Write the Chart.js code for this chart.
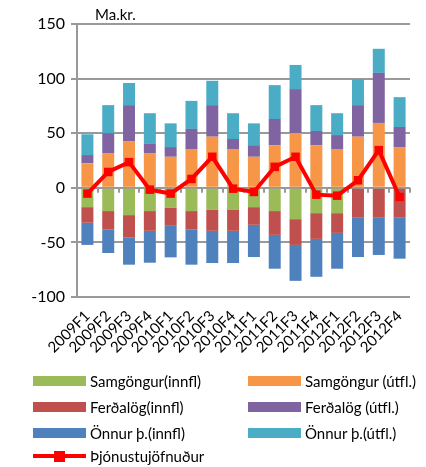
<!DOCTYPE html>
<html>
<head>
<meta charset="utf-8">
<script src="https://cdn.jsdelivr.net/npm/chart.js@4/dist/chart.umd.min.js"></script>
<style>
  body { margin: 0; background: #fff; }
  #wrap { position: relative; width: 426px; height: 467px; }
  #legend { position: absolute; left: 0; top: 0; width: 426px; height: 467px; pointer-events: none;
            font-family: Lato, sans-serif; font-size: 15px; color: #000; }
  .item { position: absolute; height: 20px; line-height: 20px; white-space: nowrap; }
  .sw { position: absolute; left: 0; top: 5px; width: 53px; height: 10px; }
  .txt { position: absolute; left: 57px; top: 0; }
</style>
</head>
<body>
<div id="wrap">
  <canvas id="chart" width="426" height="467"></canvas>
  <div id="legend"></div>
</div>
<script>
var quarters = ["2009F1","2009F2","2009F3","2009F4","2010F1","2010F2","2010F3","2010F4",
                "2011F1","2011F2","2011F3","2011F4","2012F1","2012F2","2012F3","2012F4"];

// Ma.kr.
var samgInnfl = [-17.7,-21.3,-25,-21.3,-18,-21.3,-19.8,-19.8,-17.7,-21.3,-28.7,-23.2,-23.2,0,0,0];
var samgUtfl  = [22.5,31.8,42.8,31.8,28.4,35.5,46.8,35.5,28.4,39,50.2,39,35.5,46.8,59.4,37.3];
var ferdInnfl = [-14.3,-16.7,-20.3,-18.1,-16.2,-16.7,-19.6,-19.6,-16.2,-21.8,-23.6,-23.6,-18.1,-26.9,-26.9,-26.9];
var ferdUtfl  = [7.5,18.2,32.9,8.9,8.9,18.4,28.9,9.2,10.6,24,40.2,13,12.8,28.9,45.8,18.4];
var onnurInnfl = [-20.3,-21.7,-25.1,-29.2,-29.5,-32.4,-29.5,-29.5,-29.5,-31,-32.9,-34.7,-32.8,-36.5,-34.6,-38];
var onnurUtfl  = [19,25.7,20.3,27.6,21.7,25.7,22.3,23.6,20,31,22.1,23.7,20,23.9,22.1,27.3];
var jofnudur = [-5.3,14.5,23.5,-1.7,-5.3,8.1,28.4,-0.8,-3.8,19.2,28.4,-6.3,-7.2,6.9,34.5,-8.4];

var yTicks = [-100,-50,0,50,100,150];

function bar(label, data, color) {
  return { type: 'bar', label: label, data: data, backgroundColor: color, borderWidth: 0,
           stack: 'a', order: 1, barPercentage: 0.64, categoryPercentage: 0.9 };
}

var datasets = [
  bar("Samgöngur(innfl)", samgInnfl, "#9BBB59"),
  bar("Samgöngur (útfl.)", samgUtfl, "#F79646"),
  bar("Ferðalög(innfl)", ferdInnfl, "#C0504D"),
  bar("Ferðalög (útfl.)", ferdUtfl, "#8064A2"),
  bar("Önnur þ.(innfl)", onnurInnfl, "#4F81BD"),
  bar("Önnur þ.(útfl.)", onnurUtfl, "#4BACC6"),
  { type: 'line', label: "Þjónustujöfnuður", data: jofnudur, stack: 'line', order: 0,
    borderColor: "#FF0000", backgroundColor: "#FF0000", borderWidth: 4,
    pointStyle: 'rect', pointRadius: 6, pointBorderWidth: 0, tension: 0 }
];

// "Ma.kr." label and the small category ticks on the zero line
var extras = {
  id: 'extras',
  beforeDatasetsDraw: function(chart) {
    var ctx = chart.ctx, x = chart.scales.x, y = chart.scales.y;
    var y0 = y.getPixelForValue(0);
    var step = (x.right - x.left) / quarters.length;
    ctx.save();
    ctx.strokeStyle = '#999';
    ctx.lineWidth = 2;
    ctx.beginPath();
    for (var i = 1; i <= quarters.length; i++) {
      var px = Math.round(x.left + step * i);
      ctx.moveTo(px, y0);
      ctx.lineTo(px, y0 + 5);
    }
    ctx.stroke();
    ctx.restore();
  },
  afterDraw: function(chart) {
    var ctx = chart.ctx;
    ctx.save();
    ctx.font = '15px Lato, sans-serif';
    ctx.fillStyle = '#000';
    ctx.fillText('Ma.kr.', 95, 20);
    ctx.restore();
  }
};

var chart = new Chart(document.getElementById('chart'), {
  data: { labels: quarters, datasets: datasets },
  plugins: [extras],
  options: {
    responsive: false,
    animation: false,
    layout: { padding: { left: 0, right: 16, top: 24, bottom: 100 } },
    plugins: { legend: { display: false }, tooltip: { enabled: false } },
    scales: {
      x: {
        stacked: true,
        grid: { display: false },
        border: { display: false },
        afterFit: function(s) { s.height = 70; },
        ticks: { autoSkip: false, minRotation: 45, maxRotation: 45, color: '#000', padding: 2,
                 font: { family: 'Lato', size: 15 } }
      },
      y: {
        stacked: true,
        min: -100, max: 150,
        afterFit: function(s) { s.width = 77; },
        afterBuildTicks: function(s) { s.ticks = yTicks.map(function(v) { return { value: v }; }); },
        grid: { color: '#999', lineWidth: 2, tickLength: 6 },
        border: { color: '#999', width: 2 },
        ticks: { color: '#000', padding: 6, font: { family: 'Lato', size: 16 } }
      }
    }
  }
});

// legend in two columns, built from the chart's datasets
var positions = [[33,371],[248,371],[33,397],[248,397],[33,423],[248,423],[33,446]];
var legend = document.getElementById('legend');
chart.data.datasets.forEach(function(ds, i) {
  var it = document.createElement('div');
  it.className = 'item';
  it.style.left = positions[i][0] + 'px';
  it.style.top = positions[i][1] + 'px';
  var sw;
  if (ds.type === 'line') {
    sw = '<div class="sw" style="top:8px;height:4px;background:' + ds.borderColor + '"></div>' +
         '<div style="position:absolute;left:21px;top:5px;width:11px;height:11px;background:' + ds.borderColor + '"></div>';
  } else {
    sw = '<div class="sw" style="background:' + ds.backgroundColor + '"></div>';
  }
  it.innerHTML = sw + '<span class="txt">' + ds.label + '</span>';
  legend.appendChild(it);
});
</script>
</body>
</html>
